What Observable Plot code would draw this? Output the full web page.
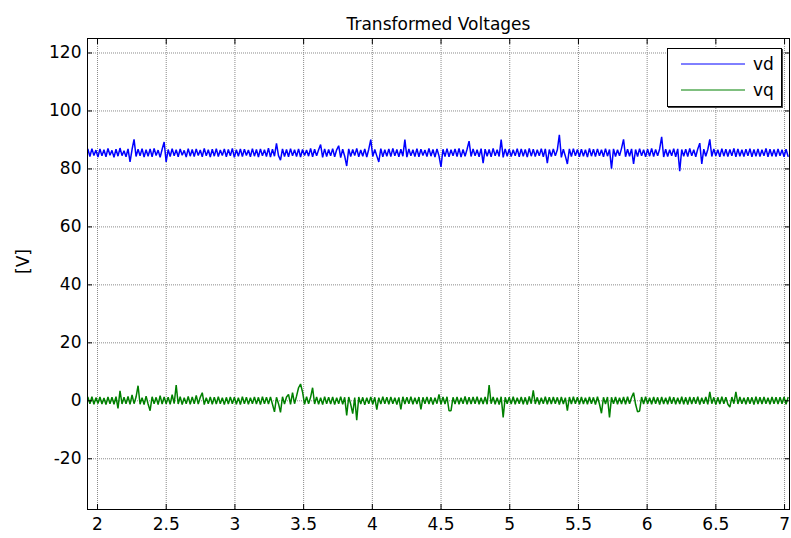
<!DOCTYPE html>
<html><head><meta charset="utf-8">
<script src="https://cdn.jsdelivr.net/npm/d3@7"></script>
<script src="https://cdn.jsdelivr.net/npm/@observablehq/plot@0.6"></script>
<style>
body{margin:0;background:#fff;}
#wrap{position:relative;width:791px;height:538px;}
#legend{position:absolute;left:667px;top:48px;width:113px;height:57px;background:#fff;border:1px solid #000;box-shadow:1px 1px 0 #444;}
</style></head><body><div id="wrap"></div>
<script>
const title = "Transformed Voltages";
const yLabel = "[V]";
const seriesNames = ["vd", "vq"];
const seriesColors = ["#0000ff", "#008000"];
const xTicks = [2, 2.5, 3, 3.5, 4, 4.5, 5, 5.5, 6, 6.5, 7];
const yTicks = [-20, 0, 20, 40, 60, 80, 100, 120];
const xDomain = [1.927, 7.036];
const yDomain = [-37.5, 125];
const T0 = 1.93, DT = 0.0146;

const vd = [
86.8,84.3,87.0,84.6,86.5,84.1,86.9,84.5,86.6,84.2,
87.1,84.7,86.4,84.0,86.8,84.4,87.2,84.6,86.3,84.2,
86.9,82.4,86.7,90.2,84.3,86.8,84.5,87.0,84.1,86.6,
84.4,86.9,84.2,87.1,84.6,86.5,84.0,86.8,89.3,82.4,
86.7,84.3,87.0,84.5,86.6,84.2,86.9,84.7,86.4,84.1,
87.0,84.4,86.7,84.3,86.9,84.6,86.5,84.2,87.1,84.5,
86.6,84.1,86.8,84.4,87.0,84.3,86.5,84.6,86.9,84.2,
86.7,84.5,87.1,84.0,86.6,84.4,86.9,84.3,86.8,84.6,
86.5,84.2,87.0,84.4,86.7,84.1,86.9,84.5,86.6,84.3,
87.2,84.1,86.8,84.4,88.8,84.6,83.0,86.9,84.3,86.7,
84.2,87.0,84.5,86.6,84.3,86.9,84.1,86.7,84.6,86.5,
84.4,87.1,84.2,86.8,84.5,86.6,88.4,84.0,86.9,84.3,
86.7,84.5,87.0,84.2,86.6,88.0,83.9,86.8,84.4,81.0,
86.9,84.3,86.7,84.6,87.1,84.2,86.5,84.4,86.9,84.1,
86.8,90.1,84.3,86.7,84.5,82.4,87.0,84.2,86.6,84.4,
86.9,84.3,87.1,84.5,86.7,84.2,86.8,84.4,90.1,84.1,
86.9,84.5,86.6,84.3,87.0,84.2,86.8,84.6,86.5,84.3,
87.1,84.4,86.7,84.1,86.9,84.5,80.7,86.8,84.3,87.0,
84.2,86.6,84.5,86.9,84.3,87.1,84.1,86.7,84.4,86.8,
89.6,84.3,86.9,84.5,86.6,84.2,87.0,82.0,86.8,84.4,
86.7,84.2,87.1,84.5,86.6,84.3,90.1,84.0,86.9,84.4,
86.8,84.3,86.6,84.5,87.0,84.2,86.9,84.4,86.7,84.1,
87.1,84.4,86.8,84.3,86.6,84.5,87.0,84.2,86.9,82.0,
86.7,84.3,86.9,84.5,86.6,91.8,84.0,86.8,84.4,81.7,
86.9,84.3,87.0,84.5,86.7,84.2,86.8,84.4,86.6,84.1,
87.1,84.4,86.8,84.3,86.9,84.5,86.6,84.2,87.0,84.4,
86.7,80.1,86.9,84.3,86.6,84.5,87.1,90.2,84.2,86.8,
84.4,86.9,81.7,86.7,84.3,87.0,84.5,86.6,84.2,86.8,
84.4,87.1,84.3,86.7,84.5,86.9,91.1,84.1,86.8,84.3,
86.6,84.5,87.0,84.2,86.9,79.2,86.7,84.4,86.8,84.3,
87.1,84.5,86.6,84.2,86.9,88.9,81.7,86.8,84.4,86.7,
90.2,84.3,86.9,84.5,86.6,84.2,87.0,84.4,86.8,84.3,
86.7,84.5,87.1,84.2,86.9,84.4,86.6,84.3,86.8,84.5,
87.0,84.2,86.7,84.4,86.9,84.3,86.6,84.5,87.1,84.2,
86.8,84.4,86.7,84.3,86.9,84.5,86.6,84.2,86.8,84.4
];

const vq = [
1.2,-1.0,1.4,-1.2,1.1,-0.9,1.3,-1.1,1.0,-1.3,
1.3,-1.0,1.2,-1.2,1.4,-2.6,3.4,-1.1,1.2,-1.0,
1.5,-1.2,2.0,-1.0,1.3,5.2,-1.2,1.1,-1.3,1.6,
-1.1,-3.4,1.4,-1.0,1.2,-1.3,1.8,-1.1,1.3,-1.0,
1.2,-1.2,2.1,-1.0,5.4,-1.1,1.4,-1.3,1.1,-1.0,
1.5,-1.2,1.3,-1.0,1.9,-1.1,1.2,2.8,-1.3,1.1,
-1.0,1.3,-1.2,1.2,-1.1,1.4,-1.0,1.1,-1.3,1.2,
-1.1,1.3,-1.0,1.2,-1.2,1.1,-1.3,1.4,-1.0,1.2,
-1.2,1.1,-1.0,1.3,-1.1,1.2,-1.3,1.4,-1.0,1.2,
-1.1,1.3,-1.2,-3.8,1.2,-1.0,-4.0,1.4,-1.1,1.3,
2.2,-1.2,2.8,-1.0,1.6,4.5,5.8,3.0,-1.2,1.4,
-1.0,1.2,4.5,-1.1,1.3,-1.2,1.1,-1.3,1.4,-1.0,
1.2,-1.1,1.3,-1.3,1.1,-1.0,1.4,-1.2,1.2,-5.0,
1.3,-1.2,-4.4,1.1,-6.7,1.3,-1.1,1.2,-1.4,1.1,
-1.0,1.3,-1.2,1.2,-3.0,1.1,-1.1,1.4,-1.0,1.2,
-1.2,1.3,-1.0,1.1,-1.3,1.2,-3.0,1.4,-1.1,1.2,
-1.0,1.4,-1.2,1.1,-1.1,1.3,-3.0,1.2,-1.0,1.3,
-1.1,1.2,-1.3,1.1,-1.0,2.2,-1.2,1.3,-1.1,1.4,
-3.4,-3.4,1.2,-1.1,1.3,-1.2,1.1,-1.0,1.5,-1.2,
1.2,-1.1,1.3,-1.0,1.4,-1.2,1.1,-1.1,1.3,-1.2,
5.4,-1.0,1.3,-1.2,1.1,-1.3,1.4,-5.7,1.2,-1.0,
1.2,-1.1,1.4,-1.2,1.1,-1.0,1.3,-1.2,1.2,-1.3,
1.5,-1.0,3.6,-1.1,1.2,-1.3,1.1,-1.0,1.4,-1.2,
1.2,-1.1,1.3,-1.0,1.2,-1.3,1.3,-1.1,1.1,-3.4,
1.3,-1.1,1.4,-1.0,1.2,-1.2,1.3,-1.1,1.1,-1.2,
1.3,-1.0,1.2,-1.3,1.4,-1.1,-4.3,1.2,-1.1,1.3,
-5.7,1.2,-1.0,1.3,-1.2,1.1,-1.1,1.3,-1.2,1.4,
-1.0,1.2,2.8,-1.2,-3.8,-3.5,1.3,-1.1,1.4,-1.0,
1.1,-1.2,1.3,-1.0,1.2,-1.3,1.3,-1.1,1.1,-1.2,
1.4,-1.0,1.2,-1.2,1.1,-1.1,1.4,-1.2,1.2,-1.3,
1.3,-1.1,1.2,-1.0,1.4,-1.3,1.1,-1.0,1.3,-1.2,
3.1,-1.0,1.2,-1.3,1.2,-1.1,1.4,-1.0,1.2,-1.2,
-2.2,1.3,-1.0,3.1,-1.1,1.3,-1.0,1.1,-1.2,1.2,
-1.0,1.2,-1.3,1.4,-1.1,1.2,-1.1,1.3,-1.0,1.1,
-1.2,1.3,-1.0,1.2,-1.1,1.2,-1.0,1.3,-1.2,1.1
];

const seriesValues = [vd, vq];
const rows = [];
seriesValues.forEach((vals, s) => vals.forEach((v, i) => rows.push({t: T0 + i * DT, v, s: seriesNames[s]})));

const FONT = "'DejaVu Sans', sans-serif";
const fmt = d => String(d);
const none = () => "";
const grid = {stroke: "#8a8a8a", strokeOpacity: 1, strokeDasharray: "1,1"};

const chart = Plot.plot({
  width: 791, height: 538,
  marginLeft: 87, marginRight: 2, marginTop: 38, marginBottom: 29,
  x: {domain: xDomain},
  y: {domain: yDomain},
  color: {domain: seriesNames, range: seriesColors},
  style: {fontFamily: FONT, fontSize: "17px", background: "white", color: "black", overflow: "visible"},
  marks: [
    Plot.gridX(xTicks, grid),
    Plot.gridY(yTicks, grid),
    Plot.lineY(rows, {x: "t", y: "v", z: "s", stroke: "s", strokeWidth: 1.5, strokeLinejoin: "miter"}),
    Plot.frame({stroke: "black", strokeWidth: 1}),
    Plot.axisX(xTicks, {anchor: "bottom", tickSize: 0, tickPadding: 8, tickFormat: fmt, label: null}),
    Plot.axisX(xTicks, {anchor: "bottom", tickSize: -5, tickFormat: none, label: null}),
    Plot.axisX(xTicks, {anchor: "top", tickSize: -5, tickFormat: none, label: null}),
    Plot.axisY(yTicks, {anchor: "left", tickSize: 0, tickPadding: 6, tickFormat: fmt, label: null}),
    Plot.axisY(yTicks, {anchor: "left", tickSize: -5, tickFormat: none, label: null}),
    Plot.axisY(yTicks, {anchor: "right", tickSize: -5, tickFormat: none, label: null}),
    Plot.text([title], {frameAnchor: "top", dy: -21, fontSize: 17}),
    Plot.text([yLabel], {frameAnchor: "left", rotate: -90, dx: -64, fontSize: 17})
  ]
});
const wrap = document.getElementById("wrap");
wrap.appendChild(chart);

// legend
const leg = d3.select(wrap).append("div").attr("id", "legend");
const lsvg = leg.append("svg").attr("width", 113).attr("height", 57);
seriesNames.forEach((name, i) => {
  const g = lsvg.append("g").attr("transform", `translate(0,${15 + i * 26})`);
  g.append("line").attr("x1", 13).attr("x2", 77).attr("y1", 0).attr("y2", 0)
    .attr("stroke", seriesColors[i]).attr("stroke-width", 1);
  g.append("text").attr("x", 85).attr("y", 0).attr("dy", "0.35em")
    .attr("font-family", FONT).attr("font-size", 17).text(name);
});
</script>
</body></html>
